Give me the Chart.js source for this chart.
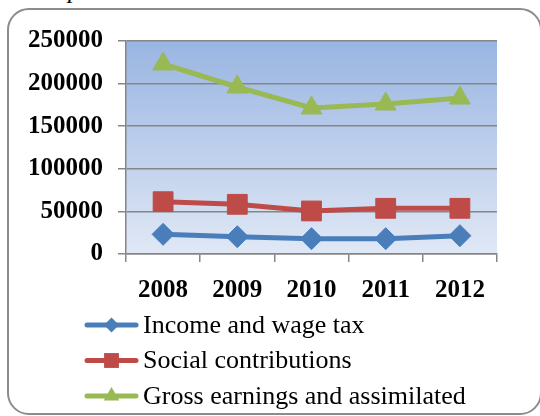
<!DOCTYPE html>
<html>
<head>
<meta charset="utf-8">
<script src="https://cdn.jsdelivr.net/npm/chart.js@4/dist/chart.umd.min.js"></script>
<style>
  html, body { margin: 0; padding: 0; background: #fff; }
  #wrap { position: relative; width: 540px; height: 416px; overflow: hidden; }
  #frame {
    position: absolute; left: 7px; top: 8px; width: 535px; height: 407px;
    border: 2px solid #8c8c8c; border-radius: 22px; box-sizing: border-box;
  }
  #cap {
    position: absolute; left: 68px; top: -23px;
    font: italic 26px/26px "Liberation Serif", serif; color: #000;
  }
  #chart { position: absolute; left: 0; top: 0; }
</style>
</head>
<body>
<div id="wrap">
  <div id="cap">p</div>
  <div id="frame"></div>
  <canvas id="chart" width="540" height="416"></canvas>
</div>
<script>
const years = ['2008', '2009', '2010', '2011', '2012'];
const incomeTax = [23100, 20300, 18000, 18000, 21500];
const socialContrib = [61400, 58300, 50500, 53600, 53600];
const grossEarnings = [223000, 196000, 171400, 176000, 183000];
const seriesNames = ['Income and wage tax', 'Social contributions', 'Gross earnings and assimilated'];
const yTicks = [0, 50000, 100000, 150000, 200000, 250000];

const serif = '"Liberation Serif", "Times New Roman", serif';
const colors = ['#4a7ebb', '#be4b48', '#98b954'];
const styles = ['rectRot', 'rect', 'triangle'];
const radii = [11, 14, 12];
const legendRadii = [7.5, 10.5, 9];

const plotBackground = {
    id: 'plotBackground',
    beforeDraw(chart) {
        const { ctx, chartArea: a } = chart;
        const g = ctx.createLinearGradient(0, a.top, 0, a.bottom);
        g.addColorStop(0, '#99b5e2');
        g.addColorStop(1, '#e0e8f5');
        ctx.save();
        ctx.fillStyle = g;
        ctx.fillRect(a.left, a.top, a.right - a.left, a.bottom - a.top);
        ctx.restore();
    }
};

// legend drawn as a vertical list, left aligned like the original
const listLegend = {
    id: 'listLegend',
    afterDraw(chart) {
        const ctx = chart.ctx;
        ctx.save();
        chart.data.datasets.forEach((ds, i) => {
            const y = 325 + i * 35.5;
            ctx.strokeStyle = ds.borderColor;
            ctx.lineWidth = 5;
            ctx.lineCap = 'round';
            ctx.beginPath();
            ctx.moveTo(87, y);
            ctx.lineTo(136, y);
            ctx.stroke();
            ctx.fillStyle = ds.backgroundColor;
            Chart.helpers.drawPoint(ctx, { pointStyle: ds.pointStyle, radius: legendRadii[i], borderWidth: 0, rotation: 0 }, 111.5, y);
            ctx.fillStyle = '#000';
            ctx.font = '26px ' + serif;
            ctx.textBaseline = 'middle';
            ctx.textAlign = 'left';
            ctx.fillText(ds.label, 143, y + 1);
        });
        ctx.restore();
    }
};

const makeSet = (i, data) => ({
    label: seriesNames[i],
    data: data,
    borderColor: colors[i],
    backgroundColor: colors[i],
    borderWidth: 5,
    pointStyle: styles[i],
    pointRadius: radii[i],
    pointHoverRadius: radii[i],
    pointBorderWidth: 1,
    tension: 0
});

new Chart(document.getElementById('chart'), {
    type: 'line',
    data: {
        labels: years,
        datasets: [makeSet(0, incomeTax), makeSet(1, socialContrib), makeSet(2, grossEarnings)]
    },
    options: {
        responsive: false,
        animation: false,
        layout: { padding: { left: 20, top: 41, right: 43, bottom: 113 } },
        plugins: { legend: { display: false }, tooltip: { enabled: false } },
        scales: {
            x: {
                offset: true,
                afterFit: s => { s.height = 49; },
                grid: { offset: true, drawOnChartArea: false, tickLength: 8, tickColor: '#868686', lineWidth: 1.5 },
                border: { color: '#868686', width: 1.5 },
                ticks: { color: '#000', padding: 14, font: { family: serif, size: 25, weight: 'bold' } }
            },
            y: {
                min: 0,
                max: 250000,
                afterFit: s => { s.width = 106; },
                afterBuildTicks: s => { s.ticks = yTicks.map(v => ({ value: v })); },
                grid: { color: '#868686', lineWidth: 1.5, tickLength: 8 },
                border: { color: '#868686', width: 1.5 },
                ticks: {
                    color: '#000', padding: 15,
                    font: { family: serif, size: 25, weight: 'bold' },
                    callback: v => String(v)
                }
            }
        }
    },
    plugins: [plotBackground, listLegend]
});
</script>
</body>
</html>
